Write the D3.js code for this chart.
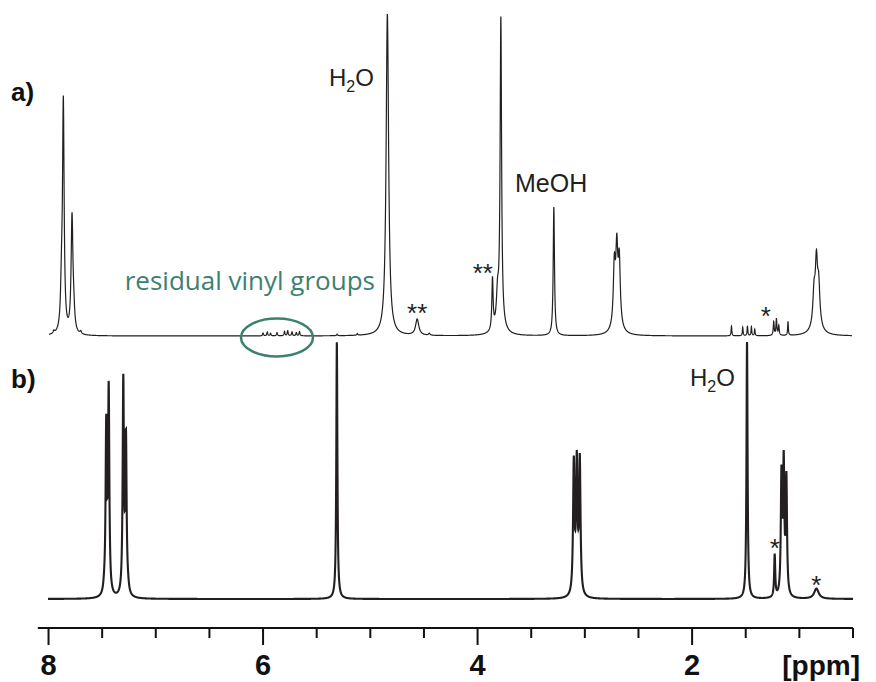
<!DOCTYPE html>
<html>
<head>
<meta charset="utf-8">
<script src="https://cdn.jsdelivr.net/npm/d3@7"></script>
<style>
  body { margin: 0; background: #fff; }
  svg { display: block; }
</style>
</head>
<body>
<div id="chart"></div>
<script>
// peak tables: [ppm, intensity (tallest = 100), half width in ppm]
var peaksA = [
    [7.879, 12, 0.010], [7.862, 71, 0.009], [7.781, 36, 0.010], [7.765, 5, 0.010],
    [7.95, 0.8, 0.008], [7.70, 0.8, 0.008],
    // residual vinyl groups
    [6.00, 0.9, 0.005], [5.96, 1.2, 0.005], [5.93, 0.8, 0.005], [5.87, 1.0, 0.005],
    [5.80, 1.4, 0.005], [5.77, 1.6, 0.005], [5.73, 1.2, 0.005], [5.69, 1.0, 0.005], [5.66, 1.3, 0.005],
    [5.31, 0.5, 0.005], [5.12, 0.5, 0.005],
    [4.841, 100, 0.014],
    [4.563, 5.0, 0.018], [4.45, 0.6, 0.008],
    [3.861, 16, 0.007], [3.814, 9, 0.012], [3.783, 94, 0.008], [3.79, 4, 0.04],
    [3.289, 40, 0.007],
    [2.725, 18, 0.011], [2.702, 21, 0.011], [2.679, 19, 0.011], [2.70, 4, 0.04],
    [1.633, 3.0, 0.004], [1.528, 2.6, 0.004], [1.484, 3.0, 0.004], [1.447, 2.8, 0.004],
    [1.416, 2.0, 0.004], [1.239, 4.2, 0.005], [1.214, 5.0, 0.005], [1.192, 3.0, 0.005],
    [1.106, 4.2, 0.004],
    [0.863, 10, 0.013], [0.841, 18, 0.012], [0.820, 12, 0.013], [0.84, 3, 0.05]
];

var peaksB = [
    [7.48, 2, 0.010], [7.462, 64.6, 0.007], [7.439, 79, 0.007],
    [7.303, 83, 0.007], [7.278, 59.5, 0.007], [7.26, 2, 0.010],
    [5.312, 100, 0.006],
    [3.103, 51, 0.008], [3.075, 50, 0.008], [3.047, 52, 0.008],
    [1.488, 100, 0.006],
    [1.230, 16.5, 0.006],
    [1.167, 46, 0.007], [1.146, 50, 0.007], [1.121, 45, 0.007],
    [0.841, 4, 0.025]
];

var rangeA = [7.996, 0.51];
var rangeB = [8.005, 0.5];

var majorTicks = [8, 6, 4, 2];
var minorTicks = [7.5, 7, 6.5, 5.5, 5, 4.5, 3.5, 3, 2.5, 1.5, 1, 0.5];
var axisUnit = "[ppm]";

// annotations: text and the shift they sit over
var starsA = [["**", 4.563], ["**", 3.951], ["*", 1.313]];
var starsB = [["*", 1.230], ["*", 0.841]];
var vinylLabel = "residual vinyl groups";
var vinylCenter = 5.87;

var width = 876, height = 682;

var svg = d3.select("#chart").append("svg")
    .attr("width", width)
    .attr("height", height);

var x = d3.scaleLinear().domain([8.1, 0.5]).range([37.8, 853]);
var yA = d3.scaleLinear().domain([0, 100]).range([336, 14]);
var yB = d3.scaleLinear().domain([0, 100]).range([599, 342]);

// lorentzian sum over the peak table
function trace(peaks, range) {
    var pts = [];
    for (var p = range[0]; p >= range[1]; p -= 0.0008) {
        var v = 0;
        peaks.forEach(function (k) {
            var d = p - k[0];
            v += k[1] * k[2] * k[2] / (d * d + k[2] * k[2]);
        });
        pts.push([p, v]);
    }
    return pts;
}

var lineA = d3.line().x(d => x(d[0])).y(d => yA(d[1]));
var lineB = d3.line().x(d => x(d[0])).y(d => yB(d[1]));

svg.append("path")
    .attr("d", lineA(trace(peaksA, rangeA)))
    .attr("fill", "none")
    .attr("stroke", "#231f20")
    .attr("stroke-width", 1.2);

svg.append("path")
    .attr("d", lineB(trace(peaksB, rangeB)))
    .attr("fill", "none")
    .attr("stroke", "#231f20")
    .attr("stroke-width", 2.1);

// axis
var axisY = 628;
var ax = svg.append("g").attr("stroke", "#111").attr("stroke-width", 2);
ax.append("line")
    .attr("x1", x(8.1)).attr("x2", x(0.5))
    .attr("y1", axisY).attr("y2", axisY);
ax.selectAll(".major").data(majorTicks).join("line")
    .attr("x1", d => x(d)).attr("x2", d => x(d))
    .attr("y1", axisY).attr("y2", axisY + 17);
ax.selectAll(".minor").data(minorTicks).join("line")
    .attr("x1", d => x(d)).attr("x2", d => x(d))
    .attr("y1", axisY).attr("y2", axisY + 10);

var boldFont = "'Liberation Sans Narrow', 'Liberation Sans', Arial, sans-serif";
svg.selectAll(".tickLabel").data(majorTicks).join("text")
    .attr("x", d => x(d))
    .attr("y", 675)
    .attr("text-anchor", "middle")
    .attr("font-family", boldFont)
    .attr("font-weight", "bold")
    .attr("font-size", 29)
    .attr("fill", "#111")
    .text(d => d);

svg.append("text")
    .attr("x", 860).attr("y", 675)
    .attr("text-anchor", "end")
    .attr("font-family", boldFont)
    .attr("font-weight", "bold")
    .attr("font-size", 28)
    .attr("fill", "#111")
    .text(axisUnit);

// panel letters
[["a)", 101], ["b)", 388]].forEach(function (t) {
    svg.append("text")
        .attr("x", 11).attr("y", t[1])
        .attr("font-family", boldFont)
        .attr("font-weight", "bold")
        .attr("font-size", 26)
        .attr("fill", "#111")
        .text(t[0]);
});

var font = "'Liberation Sans', Arial, sans-serif";

function water(px, py) {
    var t = svg.append("text")
        .attr("x", px).attr("y", py)
        .attr("font-family", font)
        .attr("font-size", 24)
        .attr("fill", "#231f20");
    t.append("tspan").text("H");
    t.append("tspan").attr("font-size", 16).attr("dy", 6).text("2");
    t.append("tspan").attr("dy", -6).text("O");
}
water(329, 86);
water(690, 386);

svg.append("text")
    .attr("x", 515).attr("y", 192)
    .attr("font-family", font)
    .attr("font-size", 25)
    .attr("fill", "#231f20")
    .text("MeOH");

var starY = [322, 282, 325];
svg.selectAll(".starA").data(starsA).join("text")
    .attr("x", d => x(d[1]))
    .attr("y", (d, i) => starY[i])
    .attr("text-anchor", "middle")
    .attr("font-family", font)
    .attr("font-size", 26)
    .attr("fill", "#231f20")
    .text(d => d[0]);

var starYB = [557, 594];
svg.selectAll(".starB").data(starsB).join("text")
    .attr("x", d => x(d[1]))
    .attr("y", (d, i) => starYB[i])
    .attr("text-anchor", "middle")
    .attr("font-family", font)
    .attr("font-size", 26)
    .attr("fill", "#231f20")
    .text(d => d[0]);

// residual vinyl groups callout
var teal = "#3e8070";
svg.append("ellipse")
    .attr("cx", x(vinylCenter))
    .attr("cy", 337.5)
    .attr("rx", 36).attr("ry", 19)
    .attr("fill", "none")
    .attr("stroke", teal)
    .attr("stroke-width", 2.5);

svg.append("text")
    .attr("x", 375).attr("y", 290)
    .attr("text-anchor", "end")
    .attr("font-family", "'Open Sans', 'Noto Sans', sans-serif")
    .attr("font-size", 26)
    .attr("fill", teal)
    .text(vinylLabel);
</script>
</body>
</html>
